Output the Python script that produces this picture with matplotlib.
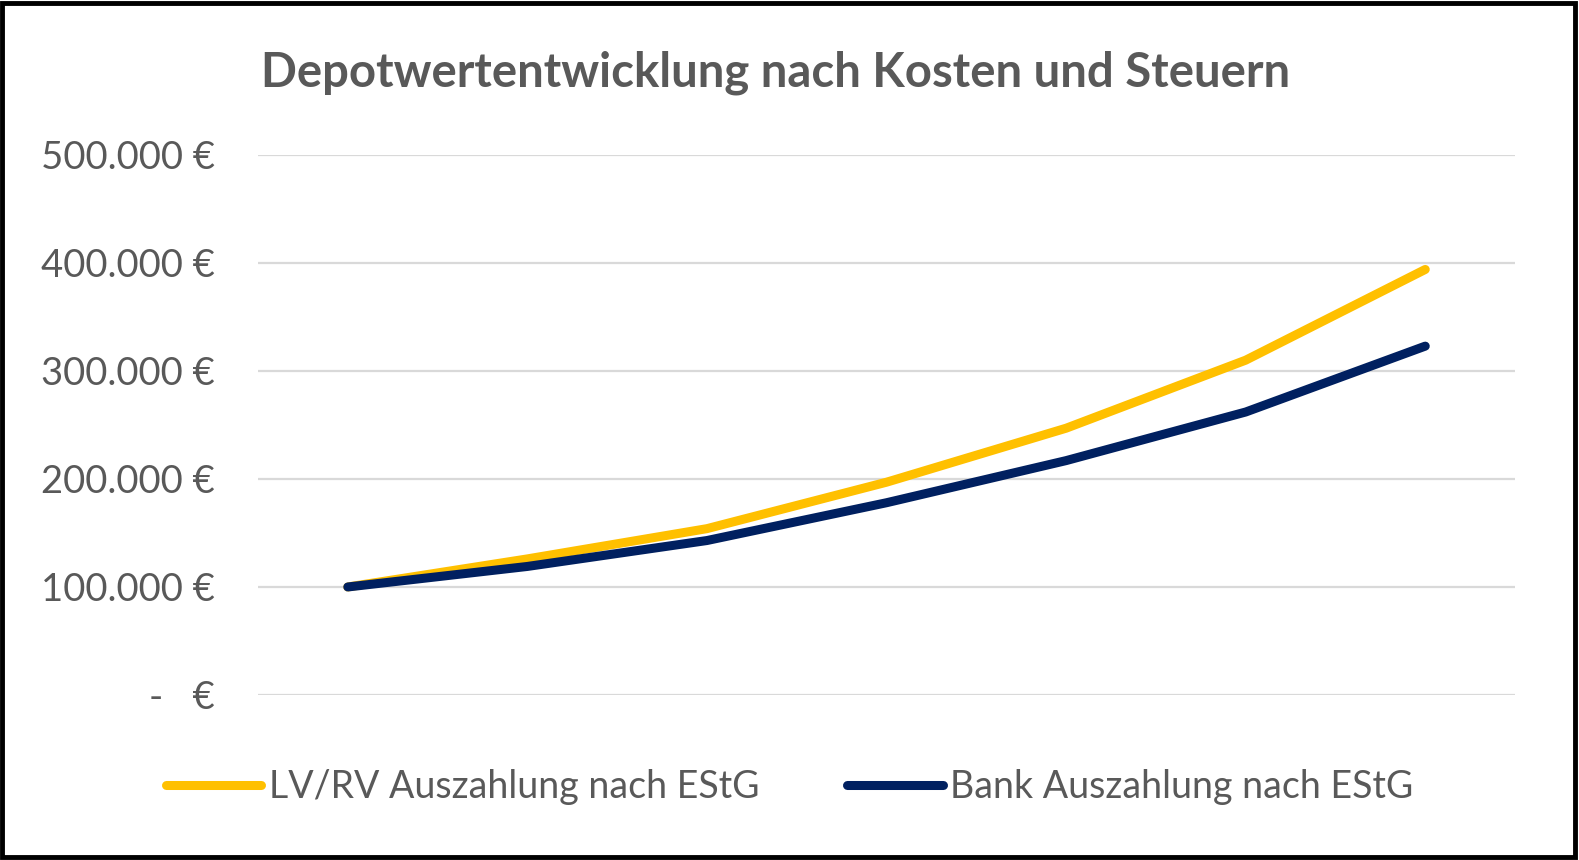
import matplotlib
matplotlib.use("Agg")
import matplotlib.pyplot as plt
from matplotlib.patches import Rectangle

plt.rcParams['font.family'] = ['Lato', 'DejaVu Sans']

# Daten
jahre = [1, 2, 3, 4, 5, 6, 7]
lv_rv = [100000, 126000, 154000, 197000, 247000, 310000, 394000]
bank = [100000, 119000, 143000, 178000, 217000, 262000, 323000]
y_ticks = [0, 100000, 200000, 300000, 400000, 500000]
y_labels = ['-   €', '100.000 €', '200.000 €', '300.000 €', '400.000 €', '500.000 €']

grau = '#595959'

fig = plt.figure(figsize=(15.79, 8.6), dpi=100)
ax = fig.add_axes([0.1634, 0.1919, 0.7961, 0.6279])

x = list(range(len(jahre)))
ax.plot(x, lv_rv, color='#FFC000', lw=6.5, solid_capstyle='round', solid_joinstyle='round',
        label='LV/RV Auszahlung nach EStG', zorder=3)
ax.plot(x, bank, color='#002060', lw=6.5, solid_capstyle='round', solid_joinstyle='round',
        label='Bank Auszahlung nach EStG', zorder=4)

ax.set_xlim(-0.5, len(jahre) - 0.5)
ax.set_ylim(0, 500000)
ax.set_yticks(y_ticks)
ax.set_yticklabels(y_labels, fontsize=27.5, color=grau)
ax.set_xticks([])
ax.tick_params(axis='y', length=0, pad=31)
ax.grid(axis='y', color='#D9D9D9', lw=1.6)
ax.set_axisbelow(True)
for s in ax.spines.values():
    s.set_visible(False)
ax.patch.set_alpha(0)

fig.text(0.491, 1 - 73 / 860, 'Depotwertentwicklung nach Kosten und Steuern',
         ha='center', va='center', fontsize=34, fontweight='bold', color=grau)

leg = fig.legend(loc='center', bbox_to_anchor=(0.5, 1 - 787 / 860), ncol=2, frameon=False,
                 fontsize=27, handlelength=2.55, handletextpad=0.19, columnspacing=2.35)
for t in leg.get_texts():
    t.set_color(grau)

# Rahmen
fig.patches.append(Rectangle((0.0015, 0.003), 0.996, 0.994, transform=fig.transFigure,
                             fill=False, edgecolor='black', lw=3.5))

fig.savefig('out.png', dpi=100, facecolor='white')
